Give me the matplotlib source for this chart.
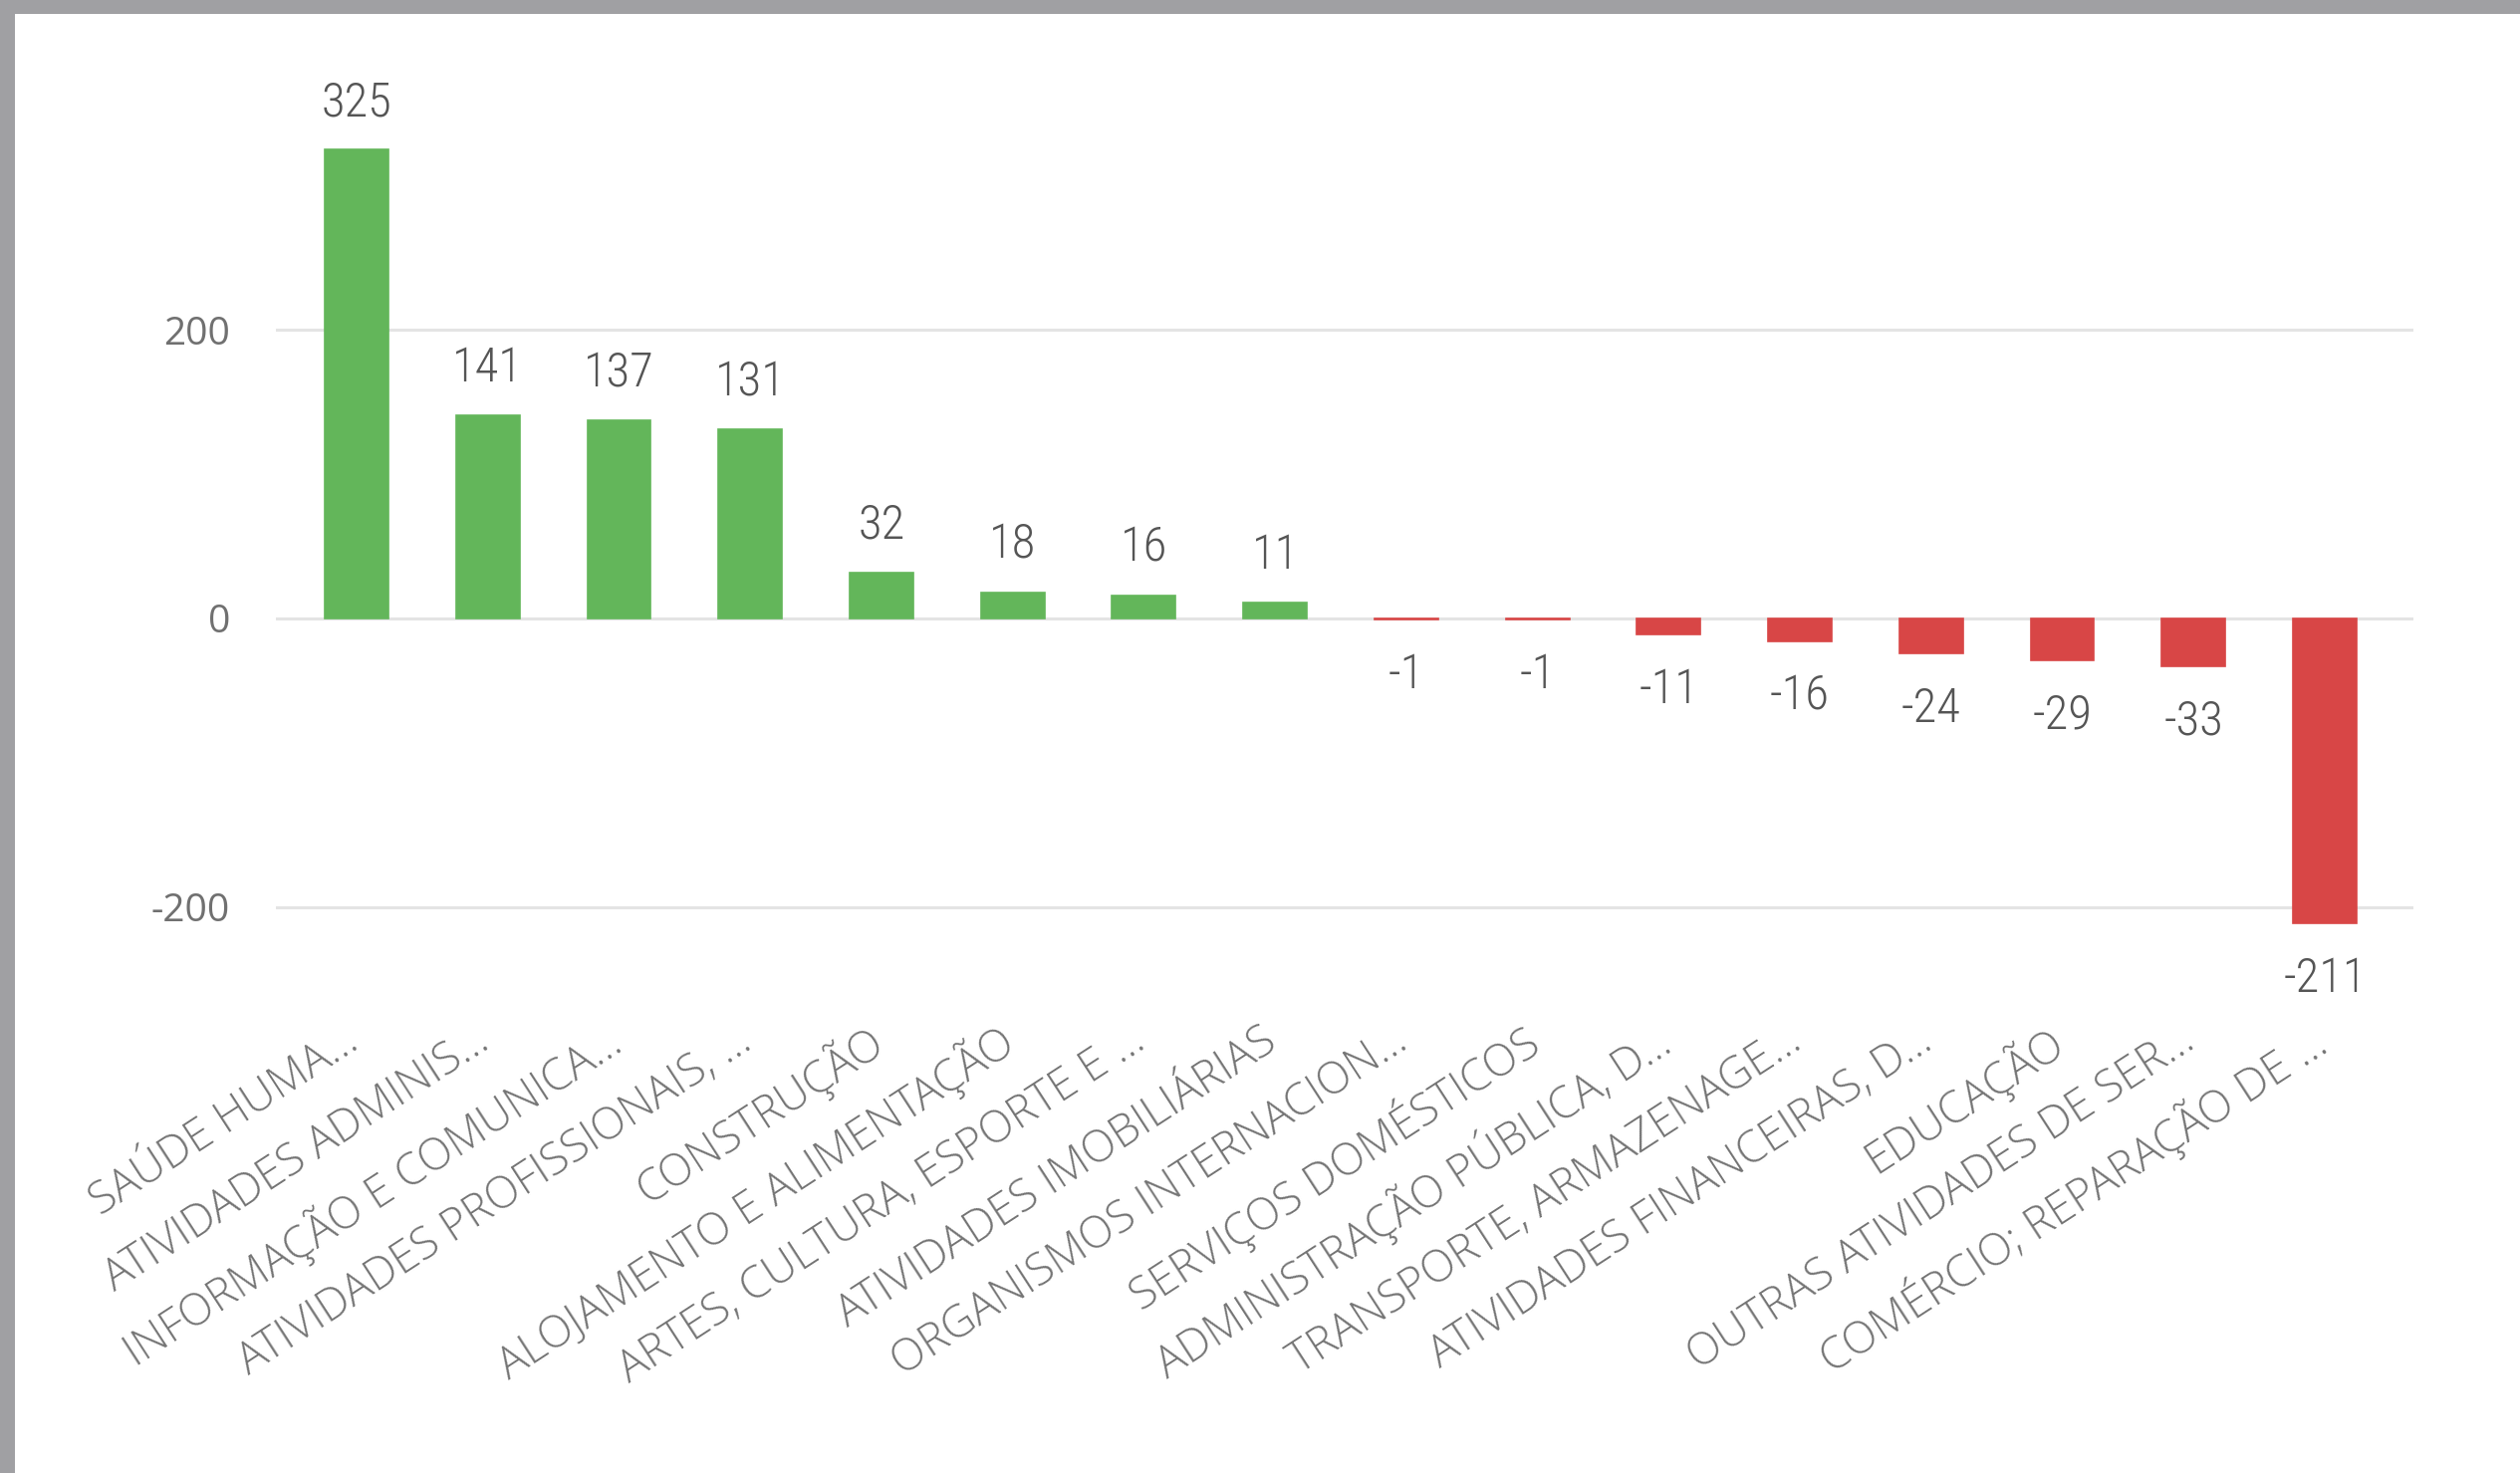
import matplotlib
matplotlib.use("Agg")
import matplotlib.pyplot as plt
from matplotlib.patches import Rectangle
from matplotlib.transforms import blended_transform_factory
from matplotlib import font_manager

categories = [
    "SAÚDE HUMA...", "ATIVIDADES ADMINIS...", "INFORMAÇÃO E COMUNICA...",
    "ATIVIDADES PROFISSIONAIS, ...", "CONSTRUÇÃO", "ALOJAMENTO E ALIMENTAÇÃO",
    "ARTES, CULTURA, ESPORTE E ...", "ATIVIDADES IMOBILIÁRIAS",
    "ORGANISMOS INTERNACION...", "SERVIÇOS DOMÉSTICOS",
    "ADMINISTRAÇÃO PÚBLICA, D...", "TRANSPORTE, ARMAZENAGE...",
    "ATIVIDADES FINANCEIRAS, D...", "EDUCAÇÃO", "OUTRAS ATIVIDADES DE SER...",
    "COMÉRCIO; REPARAÇÃO DE ...",
]
values = [325, 141, 137, 131, 32, 18, 16, 11, -1, -1, -11, -16, -24, -29, -33, -211]
yticks = [-200, 0, 200]
ytick_labels = ["-200", "0", "200"]

GREEN = "#63B65A"
RED = "#D84646"

installed = {f.name for f in font_manager.fontManager.ttflist}
narrow = None
for cand in ["Roboto Condensed", "Liberation Sans Narrow", "DejaVu Sans Condensed",
             "Open Sans Condensed", "Noto Sans Condensed"]:
    if cand in installed:
        narrow = cand
        break
num_font = [narrow, "DejaVu Sans"] if narrow else ["DejaVu Sans"]

W, H = 2530, 1479
fig = plt.figure(figsize=(W / 100, H / 100), dpi=100)
fig.patch.set_facecolor("white")

# gray frame (top and left)
fig.patches.append(Rectangle((0, 1 - 14 / H), 1, 14 / H, transform=fig.transFigure,
                             facecolor="#A0A0A3", edgecolor="none", zorder=0))
fig.patches.append(Rectangle((0, 0), 15 / W, 1, transform=fig.transFigure,
                             facecolor="#A0A0A3", edgecolor="none", zorder=0))

ylo, yhi = -250, 360
px_per_unit = 1.449
y0_px = 621
top_px = y0_px - yhi * px_per_unit
bot_px = y0_px - ylo * px_per_unit
left_px, right_px = 277, 2423
ax = fig.add_axes([left_px / W, 1 - bot_px / H, (right_px - left_px) / W, (bot_px - top_px) / H])
ax.set_xlim(-0.615, 15.676)
ax.set_ylim(ylo, yhi)

x = list(range(len(values)))
colors = [GREEN if v >= 0 else RED for v in values]
ax.bar(x, values, width=0.485, color=colors, edgecolor=colors, linewidth=1.2, zorder=3)

for s in ax.spines.values():
    s.set_visible(False)
ax.set_yticks(yticks)
ax.set_yticklabels(ytick_labels)
ax.tick_params(axis="y", length=0, pad=33, labelsize=28, labelcolor="#707070")
ax.set_xticks([])
for t in ax.get_yticklabels():
    t.set_fontfamily(["Open Sans", "DejaVu Sans"])
ax.grid(axis="y", color="#E4E4E4", linewidth=2.2, zorder=0)
ax.set_axisbelow(True)

for xi, v in zip(x, values):
    off = 34 if v >= 0 else -40
    ax.annotate(str(v), (xi, v), xytext=(0, off), textcoords="offset points",
                ha="center", va="center", fontsize=35, color="#555555",
                family=num_font, fontweight="light")

trans = blended_transform_factory(ax.transData, fig.transFigure)
for xi, c in zip(x, categories):
    ax.text(xi - 0.02, 1 - 1042 / H, c, transform=trans, rotation=33,
            rotation_mode="anchor", ha="right", va="center", fontsize=32,
            color="#747474", family=["Open Sans", "DejaVu Sans"], fontweight="light")

fig.savefig("out.png", dpi=100, facecolor="white")
